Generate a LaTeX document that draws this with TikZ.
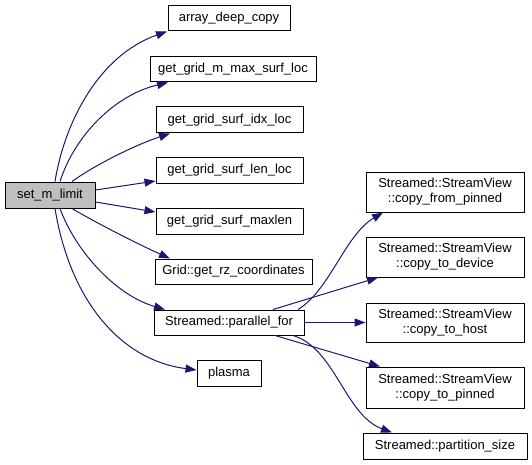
\documentclass[tikz,border=0pt]{standalone}
\usepackage{fontspec}
\setmainfont{Liberation Sans}
\usetikzlibrary{arrows.meta}
\definecolor{edgeblue}{HTML}{191970}
\definecolor{rootgray}{HTML}{BFBFBF}
\begin{document}
\begin{tikzpicture}[x=1pt,y=-1pt,
  box/.style={draw=black,line width=1pt,inner sep=0pt,align=center,
    font=\fontsize{13}{15}\selectfont,minimum height=25pt},
  twobox/.style={box,minimum height=40pt,minimum width=158pt},
  edge/.style={draw=edgeblue,line width=1pt,
    -{Triangle[length=11pt,width=8pt]}}]
\useasboundingbox (0,0) rectangle (532,465);
\node[box,fill=rootgray,minimum width=90pt,minimum height=26pt] (set) at (50,195) {set\_m\_limit};
\node[box,minimum width=122pt] (adc) at (229,18.5) {array\_deep\_copy};
\node[box,minimum width=166pt] (mmax) at (233,69.5) {get\_grid\_m\_max\_surf\_loc};
\node[box,minimum width=147pt,minimum height=26pt] (idx) at (229.5,120) {get\_grid\_surf\_idx\_loc};
\node[box,minimum width=147pt] (len) at (229.5,170.5) {get\_grid\_surf\_len\_loc};
\node[box,minimum width=147pt,minimum height=26pt] (maxlen) at (229.5,221) {get\_grid\_surf\_maxlen};
\node[box,minimum width=157pt] (rz) at (233.5,271.5) {Grid::get\_rz\_coordinates};
\node[box,minimum width=150pt] (pf) at (229,322.5) {Streamed::parallel\_for};
\node[box,minimum width=64pt,minimum height=26pt] (plasma) at (229,373) {plasma};
\node[twobox] (cfp) at (445,192) {Streamed::StreamView\\::copy\_from\_pinned};
\node[twobox] (ctd) at (445,257) {Streamed::StreamView\\::copy\_to\_device};
\node[twobox,minimum height=39pt] (cth) at (445,322.5) {Streamed::StreamView\\::copy\_to\_host};
\node[twobox,minimum height=41pt] (ctp) at (445,387.5) {Streamed::StreamView\\::copy\_to\_pinned};
\node[box,minimum width=164pt,minimum height=26pt] (ps) at (445,446) {Streamed::partition\_size};
% edges from set_m_limit
\draw[edge] ([xshift=5pt]set.north) .. controls (65,120) and (100,55) .. ([xshift=-62pt]adc.south);
\draw[edge] ([xshift=10pt]set.north) .. controls (75,135) and (115,95) .. ([xshift=-65pt]mmax.south);
\draw[edge] ([xshift=22pt]set.north) .. controls (95,165) and (135,145) .. ([xshift=-59.5pt]idx.south);
\draw[edge] ([yshift=5pt]set.east) -- ([yshift=-10.5pt]len.west);
\draw[edge] ([yshift=-7pt]set.east) -- ([yshift=9pt]maxlen.west);
\draw[edge] ([xshift=22pt]set.south) .. controls (100,225) and (140,245) .. ([xshift=-63.5pt]rz.north);
\draw[edge] ([xshift=10pt]set.south) .. controls (75,250) and (115,295) .. ([xshift=-64pt]pf.north);
\draw[edge] ([xshift=5pt]set.south) .. controls (70,300) and (120,360) .. ([yshift=3pt]plasma.west);
% edges from parallel_for
\draw[edge] ([xshift=69pt]pf.north) .. controls (330,290) and (345,235) .. ([xshift=-62pt]cfp.south);
\draw[edge] ([xshift=44pt]pf.north) -- ([xshift=-67pt]ctd.south);
\draw[edge] (pf.east) -- (cth.west);
\draw[edge] ([xshift=46pt]pf.south) -- ([xshift=-65pt]ctp.north);
\draw[edge] ([xshift=64pt]pf.south) .. controls (335,348) and (345,415) .. ([xshift=-53pt]ps.north);
\end{tikzpicture}
\end{document}
